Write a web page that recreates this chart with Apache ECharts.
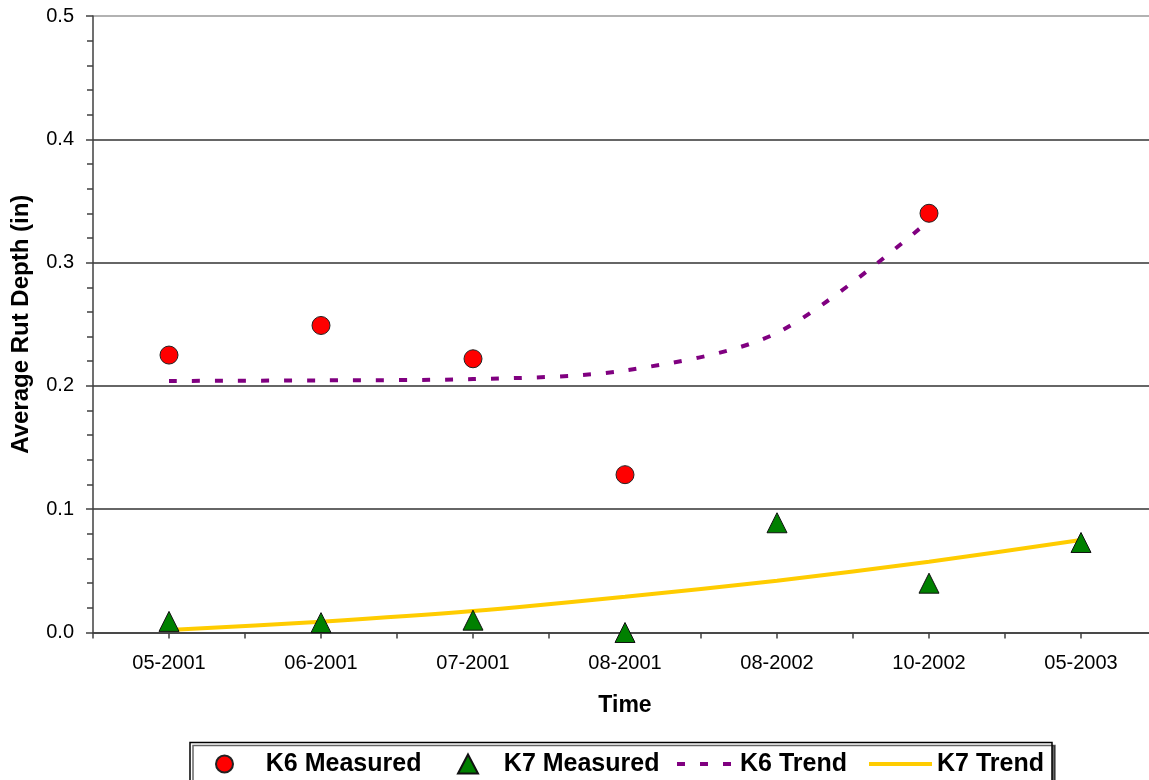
<!DOCTYPE html>
<html>
<head>
<meta charset="utf-8">
<script src="https://cdn.jsdelivr.net/npm/echarts@6/dist/echarts.min.js"></script>
<style>
html,body{margin:0;padding:0;background:#fff;}
#chart{width:1149px;height:780px;}
</style>
</head>
<body>
<div id="chart"></div>
<script>
var categories = ['05-2001','06-2001','07-2001','08-2001','08-2002','10-2002','05-2003'];
var k6Measured = [0.225, 0.249, 0.222, 0.128, null, 0.340, null];
var k7Measured = [0.009, 0.008, 0.010, 0.000, 0.089, 0.040, 0.073];
var k6Trend = [0.204, 0.2045, 0.2055, 0.2125, 0.243, 0.334, null];
var k7Trend = [0.002, 0.0088, 0.0174, 0.029, 0.042, 0.0574, 0.075];
var yTicks = [0, 0.1, 0.2, 0.3, 0.4, 0.5];

var FONT = 'Liberation Sans, Arial, sans-serif';
var chart = echarts.init(document.getElementById('chart'));

function legendFor(name, left, w, h, pad, hideSymbol) {
  var l = {
    data: [name], left: left, top: 751, padding: 0,
    itemWidth: w, itemHeight: h, selectedMode: false,
    formatter: function (n) { return pad + n; },
    textStyle: {fontFamily: FONT, fontSize: 25, fontWeight: 'bold', color: '#000', lineHeight: 26},
    lineStyle: {width: 4}
  };
  if (hideSymbol) { l.itemStyle = {opacity: 0}; }
  return l;
}

chart.setOption({
  animation: false,
  backgroundColor: '#fff',
  grid: {left: 93, right: -8, top: 16, bottom: 147.5, containLabel: false, outerBoundsMode: 'none'},
  graphic: [{
    type: 'rect', z: 0, silent: true,
    shape: {x: 190, y: 742.5, width: 862, height: 50},
    style: {fill: '#fff', stroke: '#000', lineWidth: 1.5, shadowColor: 'rgba(0,0,0,0.6)', shadowOffsetX: 3, shadowOffsetY: 3, shadowBlur: 0}
  }],
  legend: [
    legendFor('K6 Measured', 215, 17, 17, '    ', false),
    legendFor('K7 Measured', 457, 20, 19, '   ', false),
    legendFor('K6 Trend', 675, 58, 14, '', true),
    legendFor('K7 Trend', 867, 63, 14, '', true)
  ],
  xAxis: [{
    type: 'category', data: categories, position: 'bottom',
    name: 'Time', nameLocation: 'middle', nameGap: 62,
    nameTextStyle: {fontFamily: FONT, fontSize: 23, fontWeight: 'bold', color: '#000'},
    axisLine: {lineStyle: {color: '#404040', width: 1.5}},
    axisTick: {show: true, length: 6, lineStyle: {color: '#404040', width: 1.5}},
    axisLabel: {fontFamily: FONT, fontSize: 20, color: '#000', margin: 21},
    splitLine: {show: false}
  }, {
    type: 'category', data: categories, position: 'bottom',
    axisLine: {show: false},
    axisTick: {show: true, alignWithLabel: true, length: 6, lineStyle: {color: '#404040', width: 1.5}},
    axisLabel: {show: false},
    splitLine: {show: false}
  }],
  yAxis: {
    type: 'value', min: yTicks[0], max: yTicks[yTicks.length - 1], interval: 0.1,
    name: 'Average Rut Depth (in)', nameLocation: 'middle', nameGap: 60,
    nameTextStyle: {fontFamily: FONT, fontSize: 24, fontWeight: 'bold', color: '#000'},
    axisLine: {show: true, lineStyle: {color: '#404040', width: 1.5}},
    axisTick: {show: true, length: 7, lineStyle: {color: '#404040', width: 1.5}},
    minorTick: {show: true, splitNumber: 5, length: 6, lineStyle: {color: '#404040', width: 1.5}},
    axisLabel: {fontFamily: FONT, fontSize: 20, color: '#000', margin: 19,
      formatter: function (v) { return v.toFixed(1); }},
    splitLine: {show: true, lineStyle: {color: ['#333','#333','#333','#333','#333','#999'], width: 1.5}}
  },
  series: [{
    name: 'K6 Trend', type: 'line', data: k6Trend, symbol: 'none', smooth: 0.3,
    connectNulls: false, z: 2,
    lineStyle: {color: '#800080', width: 4, type: [8, 15]},
    itemStyle: {color: '#800080'}
  }, {
    name: 'K7 Trend', type: 'line', data: k7Trend, symbol: 'none', smooth: 0.3, z: 2,
    lineStyle: {color: '#FFCC00', width: 4},
    itemStyle: {color: '#FFCC00'}
  }, {
    name: 'K6 Measured', type: 'scatter', data: k6Measured, symbol: 'circle', symbolSize: 18, z: 3,
    itemStyle: {color: '#FF0000', borderColor: '#222', borderWidth: 1, opacity: 1}
  }, {
    name: 'K7 Measured', type: 'scatter', data: k7Measured, symbol: 'triangle', symbolSize: 20, z: 3,
    itemStyle: {color: '#008000', borderColor: '#111', borderWidth: 1, opacity: 1}
  }]
});
</script>
</body>
</html>
